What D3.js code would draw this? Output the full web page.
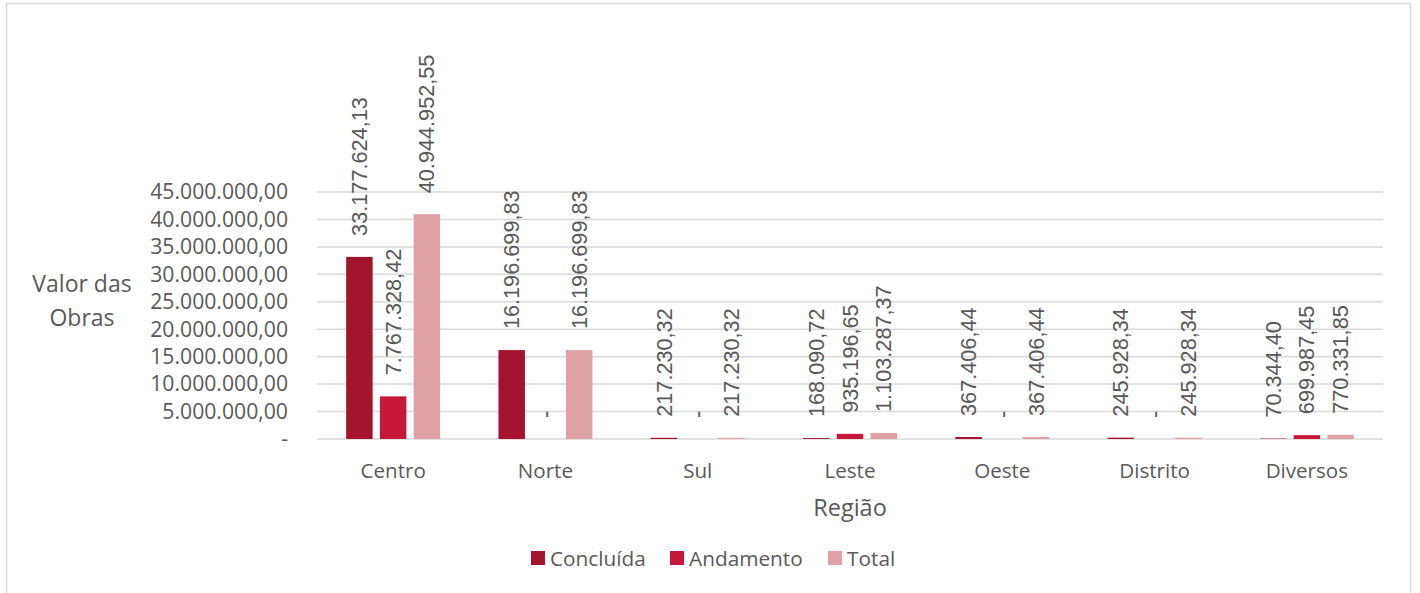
<!DOCTYPE html>
<html>
<head>
<meta charset="utf-8">
<script src="https://cdn.jsdelivr.net/npm/d3@7"></script>
<style>
  body { margin: 0; background: #fff; }
  text { fill: #595959; }
  .tick text, .cat text, .axis-title, .legend text { font-family: "Open Sans", sans-serif; }
  .lbl { font-family: "Liberation Sans", Arial, sans-serif; }
</style>
</head>
<body>
<script>
// data
const regions = ["Centro", "Norte", "Sul", "Leste", "Oeste", "Distrito", "Diversos"];
const seriesNames = ["Concluída", "Andamento", "Total"];
const concluida = [33177624.13, 16196699.83, 217230.32, 168090.72, 367406.44, 245928.34, 70344.40];
const andamento = [7767328.42, 0, 0, 935196.65, 0, 0, 699987.45];
const total = [40944952.55, 16196699.83, 217230.32, 1103287.37, 367406.44, 245928.34, 770331.85];
const yTicks = [0, 5e6, 10e6, 15e6, 20e6, 25e6, 30e6, 35e6, 40e6, 45e6];

const COLORS = ["#A5142D", "#C8183A", "#DFA0A6"];
const W = 1420, H = 593;
const PLOT = { left: 317, right: 1383, top: 192, bottom: 439 };

const br = d3.formatLocale({ decimal: ",", thousands: ".", grouping: [3], currency: ["R$", ""] });
const fmt = v => (v === 0 ? "-" : br.format(",.2f")(v));

const svg = d3.select("body").append("svg")
  .attr("width", W).attr("height", H)
  .attr("viewBox", [0, 0, W, H]);

// chart border
svg.append("rect")
  .attr("x", 6.5).attr("y", 3.5)
  .attr("width", 1404).attr("height", 620)
  .attr("fill", "none").attr("stroke", "#d9d9d9").attr("stroke-width", 1.5);

const x = d3.scaleBand().domain(regions).range([PLOT.left, PLOT.right]);
const xs = d3.scaleBand().domain(seriesNames).range([0, x.bandwidth()])
  .paddingInner(0.215).paddingOuter(0.864);
const y = d3.scaleLinear().domain([0, 45e6]).range([PLOT.bottom, PLOT.top]);

// gridlines
svg.append("g")
  .selectAll("line")
  .data(yTicks)
  .join("line")
  .attr("x1", PLOT.left).attr("x2", PLOT.right)
  .attr("y1", d => y(d)).attr("y2", d => y(d))
  .attr("stroke", "#d9d9d9").attr("stroke-width", 1.5);

// y axis labels
svg.append("g")
  .attr("transform", `translate(${PLOT.left - 29}, 0)`)
  .call(d3.axisLeft(y).tickValues(yTicks).tickFormat(fmt).tickSize(0).tickPadding(0))
  .call(g => g.select(".domain").remove())
  .call(g => g.selectAll("text").attr("fill", "#595959").attr("font-size", 21.2).attr("font-family", "Open Sans"));

// bars
const rows = regions.map((r, i) => ({ region: r, values: [concluida[i], andamento[i], total[i]] }));
const groups = svg.append("g")
  .selectAll("g")
  .data(rows)
  .join("g")
  .attr("transform", d => `translate(${x(d.region)},0)`);

groups.selectAll("rect")
  .data(d => d.values.map((v, j) => ({ s: seriesNames[j], v, j })))
  .join("rect")
  .attr("x", d => xs(d.s))
  .attr("width", xs.bandwidth())
  .attr("y", d => y(d.v))
  .attr("height", d => y(0) - y(d.v))
  .attr("fill", d => COLORS[d.j]);

// data labels
groups.selectAll("text")
  .data(d => d.values.map((v, j) => ({ s: seriesNames[j], v, j })))
  .join("text")
  .attr("class", "lbl")
  .attr("font-size", 21.7)
  .attr("transform", d => `translate(${xs(d.s) + xs.bandwidth() / 2},${y(d.v) - 21}) rotate(-90)`)
  .attr("dy", "0.35em")
  .text(d => fmt(d.v));

// category labels
svg.append("g")
  .attr("class", "cat")
  .selectAll("text")
  .data(regions)
  .join("text")
  .attr("x", d => x(d) + x.bandwidth() / 2)
  .attr("y", 478)
  .attr("text-anchor", "middle")
  .attr("font-size", 20.6)
  .text(d => d);

// axis titles
svg.append("text")
  .attr("class", "axis-title")
  .attr("x", PLOT.left + (PLOT.right - PLOT.left) / 2)
  .attr("y", 516)
  .attr("text-anchor", "middle")
  .attr("font-size", 23.5)
  .text("Região");

const yTitle = svg.append("text")
  .attr("class", "axis-title")
  .attr("text-anchor", "middle")
  .attr("font-size", 23);
yTitle.append("tspan").attr("x", 82).attr("y", 292).text("Valor das");
yTitle.append("tspan").attr("x", 82).attr("y", 326).text("Obras");

// legend
const legendX = [531, 670, 828];
const legend = svg.append("g").attr("class", "legend")
  .selectAll("g")
  .data(seriesNames)
  .join("g")
  .attr("transform", (d, i) => `translate(${legendX[i]},551)`);
legend.append("rect")
  .attr("width", 14).attr("height", 14)
  .attr("fill", (d, i) => COLORS[i]);
legend.append("text")
  .attr("x", 19).attr("y", 14.5)
  .attr("font-size", 20.8)
  .text(d => d);
</script>
</body>
</html>
